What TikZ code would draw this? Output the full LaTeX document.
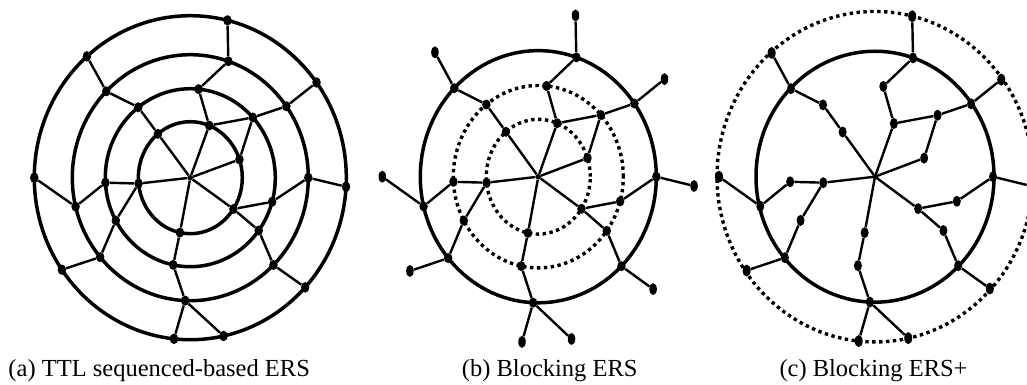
\documentclass[tikz,border=0pt]{standalone}
\usepackage{fontspec}
\setmainfont{Liberation Serif}
\usetikzlibrary{shapes.geometric}
\tikzset{
  ring/.style={line width=3.5pt},
  dotring/.style={line width=3.4pt, dash pattern=on 3.4pt off 3.5pt},
  link/.style={line width=2.4pt},
  dot/.style={ellipse, fill=black, inner sep=0pt, minimum width=8.5pt, minimum height=10pt},
  pdot/.style={ellipse, fill=black, inner sep=0pt, minimum width=8.5pt, minimum height=10.5pt},
  cdot/.style={circle, fill=black, inner sep=0pt, minimum size=5.5pt},
  capt/.style={anchor=base west, inner sep=0pt, font=\fontsize{24.5}{29}\selectfont},
}
\newcommand\ersnodes[1]{%
  \node[cdot] (#1C) at (0,0) {};
  \node[dot] (#1n1a) at (128.5:52 and 56) {};
  \node[dot] (#1n1b) at (68.7:52 and 56) {};
  \node[dot] (#1n1c) at (19:52 and 56) {};
  \node[dot] (#1n1d) at (-34:52 and 56) {};
  \node[dot] (#1n1e) at (258.5:52 and 56) {};
  \node[dot] (#1n1f) at (186:52 and 56) {};
  \node[dot] (#1n2a) at (127.7:85 and 89) {};
  \node[dot] (#1n2b) at (84.4:85 and 89) {};
  \node[dot] (#1n2c) at (42.6:85 and 89) {};
  \node[dot] (#1n2d) at (-15.7:85 and 89) {};
  \node[dot] (#1n2e) at (-36.4:85 and 89) {};
  \node[dot] (#1n2f) at (258.4:85 and 89) {};
  \node[dot] (#1n2g) at (208.8:85 and 89) {};
  \node[dot] (#1n2h) at (183.2:85 and 89) {};
  \node[dot] (#1n3a) at (135.4:118 and 123) {};
  \node[dot] (#1n3b) at (71.2:118 and 123) {};
  \node[dot] (#1n3c) at (35.5:118 and 123) {};
  \node[dot] (#1n3d) at (0:118 and 123) {};
  \node[dot] (#1n3e) at (-45.2:118 and 123) {};
  \node[dot] (#1n3f) at (267.5:118 and 123) {};
  \node[dot] (#1n3g) at (220.2:118 and 123) {};
  \node[dot] (#1n3h) at (193.6:118 and 123) {};
  \node[pdot] (#1n4a) at (131.5:156 and 162) {};
  \node[pdot] (#1n4b) at (76.2:156 and 162) {};
  \node[pdot] (#1n4c) at (36:156 and 162) {};
  \node[pdot] (#1n4d) at (-3.2:156 and 162) {};
  \node[pdot] (#1n4e) at (-42.6:156 and 162) {};
  \node[pdot] (#1n4f) at (264:156 and 162) {};
  \node[pdot] (#1n4k) at (282.3:156 and 162) {};
  \node[pdot] (#1n4g) at (214.6:156 and 162) {};
  \node[pdot] (#1n4h) at (180:156 and 162) {};
}
\newcommand\ersedges[1]{%
  \foreach \u/\v in {C/n1a,C/n1b,C/n1c,C/n1d,C/n1e,C/n1f,
    n1a/n2a,n1b/n2b,n1b/n2c,n1c/n2c,n1d/n2d,n1d/n2e,n1e/n2f,n1f/n2h,n1f/n2g,
    n2a/n3a,n2b/n3b,n2c/n3c,n2d/n3d,n2e/n3e,n2f/n3f,n2g/n3g,n2h/n3h,
    n3a/n4a,n3b/n4b,n3c/n4c,n3d/n4d,n3e/n4e,n3f/n4f,n3f/n4k,n3g/n4g,n3h/n4h}
    {\draw[link] (#1\u) -- (#1\v);}
}
\begin{document}
\begin{tikzpicture}[x=1pt,y=1pt]
\useasboundingbox (0,-384) rectangle (1027,0);
\clip (0,-384) rectangle (1027,0);
% (a)
\begin{scope}[shift={(190.3,-177.7)}]
  \draw[ring] (0,0) ellipse [x radius=52, y radius=56];
  \draw[ring] (0,0) ellipse [x radius=85, y radius=89];
  \draw[ring] (0,0) ellipse [x radius=118, y radius=123];
  \draw[ring] (0,0) ellipse [x radius=156, y radius=162];
  \ersnodes{a}
  \ersedges{a}
\end{scope}
% (b)
\begin{scope}[shift={(538.3,-176.7)}, yscale=1.025,
  pdot/.style={ellipse, fill=black, inner sep=0pt, minimum width=7.5pt, minimum height=12pt}]
  \draw[dotring] (0,0) ellipse [x radius=52, y radius=56];
  \draw[dotring] (0,0) ellipse [x radius=85, y radius=89];
  \draw[ring] (0,0) ellipse [x radius=118, y radius=123];
  \ersnodes{b}
  \ersedges{b}
\end{scope}
% (c)
\begin{scope}[shift={(875,-176.7)}, yscale=1.02,
  dot/.style={ellipse, fill=black, inner sep=0pt, minimum width=8pt, minimum height=11pt},
  pdot/.style={ellipse, fill=black, inner sep=0pt, minimum width=8pt, minimum height=12pt},
  cdot/.style={inner sep=0pt, minimum size=0pt}]
  \draw[ring] (0,0) ellipse [x radius=119, y radius=123];
  \draw[dotring] (0,0) ellipse [x radius=158, y radius=162];
  \ersnodes{c}
  \ersedges{c}
\end{scope}
\node[capt] (capa) at (8.3,-376) {(a) TTL sequenced-based ERS};
\node[capt] (capb) at (461.7,-376) {(b) Blocking ERS};
\node[capt] (capc) at (779.3,-376) {(c) Blocking ERS+};
\end{tikzpicture}
\end{document}
